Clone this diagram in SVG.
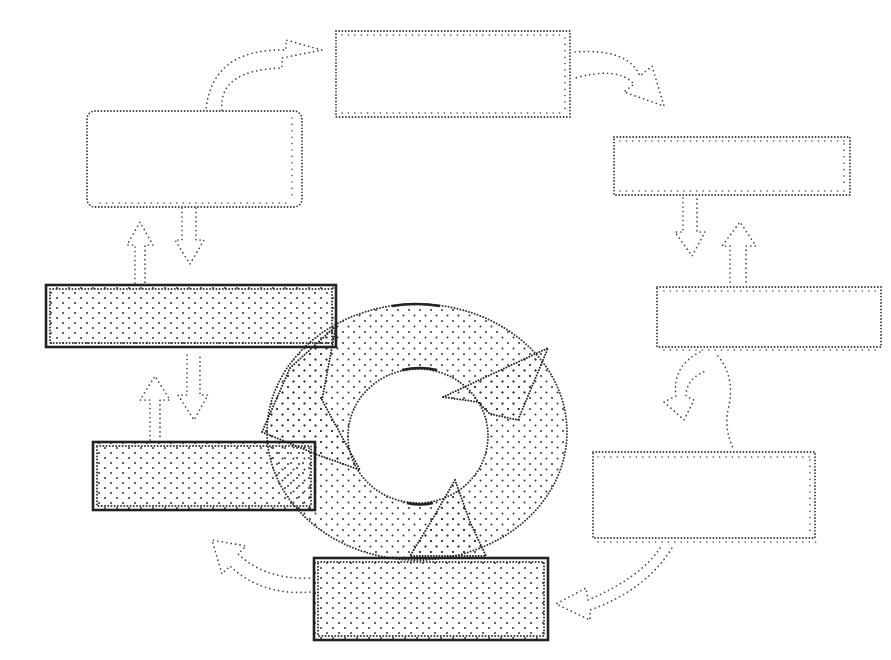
<svg xmlns="http://www.w3.org/2000/svg" width="891" height="660" viewBox="0 0 891 660">
<defs>
<pattern id="sparse" width="12" height="10" patternUnits="userSpaceOnUse"><circle cx="3" cy="3" r="1" fill="#333"/><circle cx="9" cy="8" r="1" fill="#333"/></pattern>
<pattern id="dense" width="11" height="11" patternUnits="userSpaceOnUse"><circle cx="2" cy="2" r="1" fill="#333"/><circle cx="7.5" cy="7.5" r="1" fill="#333"/></pattern>
</defs>
<style>
.dot{fill:none;stroke:#333;stroke-width:1.8;stroke-dasharray:0 3.2;stroke-linecap:round}
.dot2{fill:none;stroke:#444;stroke-width:1.6;stroke-dasharray:0 6.4;stroke-linecap:round}
.heavy{fill:url(#sparse);stroke:#222;stroke-width:2.6}
.hdot{fill:none;stroke:#333;stroke-width:2;stroke-dasharray:0 3.2;stroke-linecap:round}
.conn{fill:none;stroke:#444;stroke-width:1.7;stroke-dasharray:0 4.5;stroke-linecap:round}
.ring{fill:url(#dense);fill-rule:evenodd;stroke:#333;stroke-width:2;stroke-dasharray:0 3;stroke-linecap:round}
.arr{fill:url(#dense);stroke:#222;stroke-width:2;stroke-dasharray:0 2.8;stroke-linecap:round;stroke-linejoin:round}
.solid{fill:none;stroke:#222;stroke-width:2.5}
</style>

<g id="connectors">
  <path class="conn" d="M222,110 Q218,70 282,68 L282,58 L322,50 L286,40 L286,50 Q212,48 206,110"/>
  <path class="conn" d="M575,52 Q628,48 640,76 L652,66 L664,106 L624,92 L634,84 Q618,66 575,78"/>
  <path class="conn" d="M683,198 L683,232 L675,232 L692,256 L705,232 L697,232 L697,198"/>
  <path class="conn" d="M730,282 L730,246 L722,246 L740,222 L756,246 L746,246 L746,282"/>
  <path class="conn" d="M700,352 Q672,366 676,396 L664,402 L684,420 L694,400 L686,396 Q686,378 708,370"/>
  <path class="conn" d="M718,356 Q736,378 728,410 Q724,430 734,450"/>
  <path class="conn" d="M660,548 Q640,578 588,600 L586,588 L556,604 L590,620 L590,610 Q646,590 672,548"/>
  <path class="conn" d="M310,592 Q262,596 230,566 L222,574 L212,540 L246,546 L238,554 Q266,580 310,578"/>
  <path class="conn" d="M150,440 L150,400 L140,400 L155,376 L170,400 L160,400 L160,440"/>
  <path class="conn" d="M187,355 L187,395 L178,395 L194,420 L208,395 L200,395 L200,355"/>
  <path class="conn" d="M135,283 L135,245 L127,245 L140,222 L153,245 L145,245 L145,283"/>
  <path class="conn" d="M182,208 L182,240 L175,240 L190,264 L204,240 L196,240 L196,208"/>
</g>

<g id="ring">
  <path class="ring" d="M267,432 A150,128 0 1,0 567,432 A150,128 0 1,0 267,432 Z M348,436 A70,67 0 1,1 488,436 A70,67 0 1,1 348,436 Z"/>
  <path class="solid" d="M392,306 Q415,302 440,306"/>
  <path class="solid" d="M402,370 Q420,366 437,370"/>
  <path class="solid" d="M407,503 Q420,506 433,503"/>
</g>

<g id="arrowA"><path class="arr" d="M443,397 L548,348 L518,420 L490,414 L478,402 Z"/></g>
<g id="arrowB"><path class="arr" d="M455,480 L470,522 L486,556 L410,556 L432,520 Z"/></g>
<g id="arrowC"><path class="arr" d="M262,432 L290,368 L336,326 L322,400 L360,470 L318,455 Z"/></g>

<g id="n-top">
  <rect class="dot" x="336" y="31" width="234" height="86"/>
  <line class="dot2" x1="342" y1="35" x2="566" y2="35"/>
  <line class="dot2" x1="342" y1="113" x2="566" y2="113"/>
  <line class="dot2" x1="565" y1="38" x2="565" y2="110"/>
</g>
<g id="n-topleft">
  <rect class="dot" x="87" y="111" width="215" height="96" rx="8"/>
  <line class="dot2" x1="292" y1="118" x2="292" y2="200"/>
  <line class="dot2" x1="100" y1="203" x2="290" y2="203"/>
</g>
<g id="n-rightupper">
  <rect class="dot" x="614" y="137" width="236" height="58"/>
  <line class="dot2" x1="620" y1="141" x2="846" y2="141"/>
  <line class="dot2" x1="620" y1="191" x2="846" y2="191"/>
  <line class="dot2" x1="844" y1="144" x2="844" y2="188"/>
</g>
<g id="n-rightmid">
  <rect class="dot" x="657" y="287" width="224" height="60"/>
  <line class="dot2" x1="664" y1="291" x2="878" y2="291"/>
  <line class="dot2" x1="664" y1="350" x2="878" y2="350"/>
</g>
<g id="n-rightlower">
  <rect class="dot" x="593" y="452" width="222" height="86"/>
  <line class="dot2" x1="598" y1="457" x2="812" y2="457"/>
  <line class="dot2" x1="598" y1="542" x2="818" y2="542"/>
  <line class="dot2" x1="810" y1="460" x2="810" y2="534"/>
</g>
<g id="n-left1">
  <rect class="heavy" x="46" y="285" width="290" height="62"/>
  <rect class="hdot" x="50" y="289" width="282" height="54"/>
</g>
<g id="n-left2">
  <rect class="heavy" x="93" y="442" width="222" height="68"/>
  <rect class="hdot" x="97" y="446" width="214" height="60"/>
</g>
<g id="n-bottom">
  <rect class="heavy" x="314" y="558" width="234" height="82"/>
  <rect class="hdot" x="318" y="562" width="226" height="74"/>
</g>
</svg>
